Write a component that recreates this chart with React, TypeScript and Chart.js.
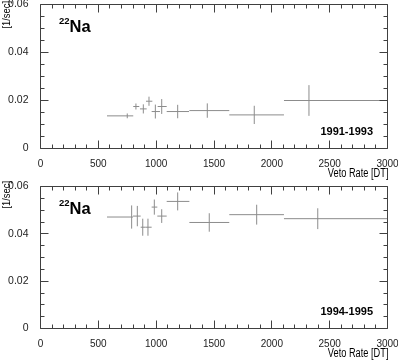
import React, { useEffect, useRef } from "react";
import { Chart, registerables } from "chart.js";

Chart.register(...registerables);

// ---- data ----
const xTickLabels = ["0", "500", "1000", "1500", "2000", "2500", "3000"];
const yTickLabels = ["0", "0.02", "0.04", "0.06"];

// 1991-1993
const binLowA = [575, 802, 860, 912, 961, 1013, 1091, 1287, 1632, 2105];
const binHighA = [802, 854, 918, 967, 1033, 1091, 1284, 1632, 2105, 3000];
const meanA = [750, 825, 889, 938, 993, 1048, 1186, 1442, 1848, 2321];
const rateA = [0.0136, 0.0175, 0.0165, 0.0197, 0.0154, 0.0175, 0.0154, 0.0158, 0.014, 0.02];
const errA = [0.001, 0.00125, 0.0019, 0.0019, 0.0029, 0.0031, 0.0028, 0.003, 0.0038, 0.0064];

// 1994-1995
const binLowB = [575, 800, 866, 906, 961, 1010, 1091, 1287, 1632, 2105];
const binHighB = [800, 866, 906, 961, 1010, 1091, 1287, 1632, 2105, 3000];
const meanB = [788, 837, 884, 929, 984, 1048, 1186, 1459, 1869, 2397];
const rateB = [0.0471, 0.0475, 0.0428, 0.0428, 0.0513, 0.0475, 0.0537, 0.0448, 0.0481, 0.0464];
const errB = [0.0049, 0.0043, 0.0036, 0.0036, 0.0032, 0.0029, 0.0038, 0.0039, 0.0042, 0.0044];

const isotope = "Na";
const isotopeMass = "22";
const xTitle = "Veto Rate [DT]";
const yTitle = "[1/sec]";

const FONT = "Arial, 'Liberation Sans', Helvetica, sans-serif";
const BAR = "#8c8c8c";
const AXIS = "#404040";

type PanelProps = {
  lo: number[];
  hi: number[];
  mean: number[];
  rate: number[];
  err: number[];
  period: string;
  top: number;
  padTop: number;
  xHeight: number;
};

function Panel({ lo, hi, mean, rate, err, period, top, padTop, xHeight }: PanelProps) {
  const ref = useRef<HTMLCanvasElement>(null);

  useEffect(() => {
    if (!ref.current) return;
    const datasets: any[] = [];
    mean.forEach((m, i) => {
      datasets.push({
        data: [
          { x: lo[i], y: rate[i] },
          { x: hi[i], y: rate[i] },
        ],
        showLine: true,
        borderColor: BAR,
        borderWidth: 1,
        pointRadius: 0,
      });
      datasets.push({
        data: [
          { x: m, y: rate[i] - err[i] },
          { x: m, y: rate[i] + err[i] },
        ],
        showLine: true,
        borderColor: BAR,
        borderWidth: 1,
        pointRadius: 0,
      });
    });

    const framePlugin = {
      id: "frame",
      afterDraw(chart: any) {
        const { ctx, chartArea: a, scales } = chart;
        const sx = scales.x;
        const sy = scales.y;
        ctx.save();
        ctx.strokeStyle = AXIS;
        ctx.lineWidth = 1;
        ctx.beginPath();
        ctx.rect(a.left, a.top, a.right - a.left, a.bottom - a.top);
        for (let k = 0; k <= 30; k++) {
          const px = Math.round(sx.getPixelForValue(k * 100) - 0.5) + 0.5;
          const len = k % 5 === 0 ? 8 : 4;
          ctx.moveTo(px, a.bottom);
          ctx.lineTo(px, a.bottom - len);
          ctx.moveTo(px, a.top);
          ctx.lineTo(px, a.top + len);
        }
        for (let k = 0; k <= 12; k++) {
          const py = Math.round(sy.getPixelForValue(k * 0.005) - 0.5) + 0.5;
          const len = k % 4 === 0 ? 8 : 4;
          ctx.moveTo(a.left, py);
          ctx.lineTo(a.left + len, py);
          ctx.moveTo(a.right, py);
          ctx.lineTo(a.right - len, py);
        }
        ctx.stroke();

        ctx.fillStyle = "#000";
        // isotope label
        ctx.textAlign = "left";
        ctx.textBaseline = "alphabetic";
        ctx.font = `bold 9.5px ${FONT}`;
        const sx0 = a.left + 18.5;
        ctx.fillText(isotopeMass, sx0, a.top + 19);
        const w = ctx.measureText(isotopeMass).width;
        ctx.font = `bold 16.5px ${FONT}`;
        ctx.fillText(isotope, sx0 + w, a.top + 27.5);

        // period
        ctx.font = `bold 11px ${FONT}`;
        ctx.textAlign = "right";
        ctx.fillText(period, a.right - 14.5, a.bottom - 13.5);

        // x title (condensed)
        ctx.save();
        ctx.translate(a.right + 1, a.bottom + 28);
        ctx.scale(0.74, 1);
        ctx.font = `12.5px ${FONT}`;
        ctx.textAlign = "right";
        ctx.fillText(xTitle, 0, 0);
        ctx.restore();

        // y title
        ctx.save();
        ctx.translate(9.5, 1);
        ctx.rotate(-Math.PI / 2);
        ctx.scale(0.85, 1);
        ctx.font = `11px ${FONT}`;
        ctx.textAlign = "right";
        ctx.fillText(yTitle, 0, 0);
        ctx.restore();

        ctx.restore();
      },
    };

    const chart = new Chart(ref.current, {
      type: "scatter",
      data: { datasets },
      options: {
        animation: false,
        responsive: false,
        devicePixelRatio: 1,
        events: [],
        layout: { padding: { top: padTop, right: 10.5, left: 0, bottom: 0 } },
        plugins: { legend: { display: false }, tooltip: { enabled: false } },
        scales: {
          x: {
            type: "linear",
            min: 0,
            max: 3000,
            grid: { display: false },
            border: { display: false },
            ticks: {
              stepSize: 500,
              autoSkip: false,
              maxRotation: 0,
              padding: 2,
              color: "#222",
              font: { family: FONT, size: 10 },
              callback: (_v: any, i: number) => xTickLabels[i],
            },
            afterFit: (s: any) => {
              s.height = xHeight;
              s.paddingLeft = 0;
              s.paddingRight = 0;
            },
          },
          y: {
            type: "linear",
            min: 0,
            max: 0.06,
            grid: { display: false },
            border: { display: false },
            ticks: {
              stepSize: 0.02,
              padding: 4,
              color: "#222",
              font: { family: FONT, size: 10.5 },
              callback: (_v: any, i: number) => yTickLabels[i],
            },
            afterFit: (s: any) => {
              s.width = 40.5;
              s.paddingTop = 0;
              s.paddingBottom = 0;
            },
          },
        },
      },
      plugins: [framePlugin],
    } as any);
    return () => chart.destroy();
  }, []);

  return (
    <canvas
      ref={ref}
      width={398}
      height={180}
      style={{ position: "absolute", left: 0, top, width: 398, height: 180 }}
    />
  );
}

export default function App() {
  return (
    <div
      style={{
        position: "fixed",
        left: 0,
        top: 0,
        width: 398,
        height: 360,
        background: "#fff",
      }}
    >
      <Panel
        lo={binLowA}
        hi={binHighA}
        mean={meanA}
        rate={rateA}
        err={errA}
        period="1991-1993"
        top={0}
        padTop={4.5}
        xHeight={31.5}
      />
      <Panel
        lo={binLowB}
        hi={binHighB}
        mean={meanB}
        rate={rateB}
        err={errB}
        period="1994-1995"
        top={180}
        padTop={6.5}
        xHeight={31.5}
      />
    </div>
  );
}
